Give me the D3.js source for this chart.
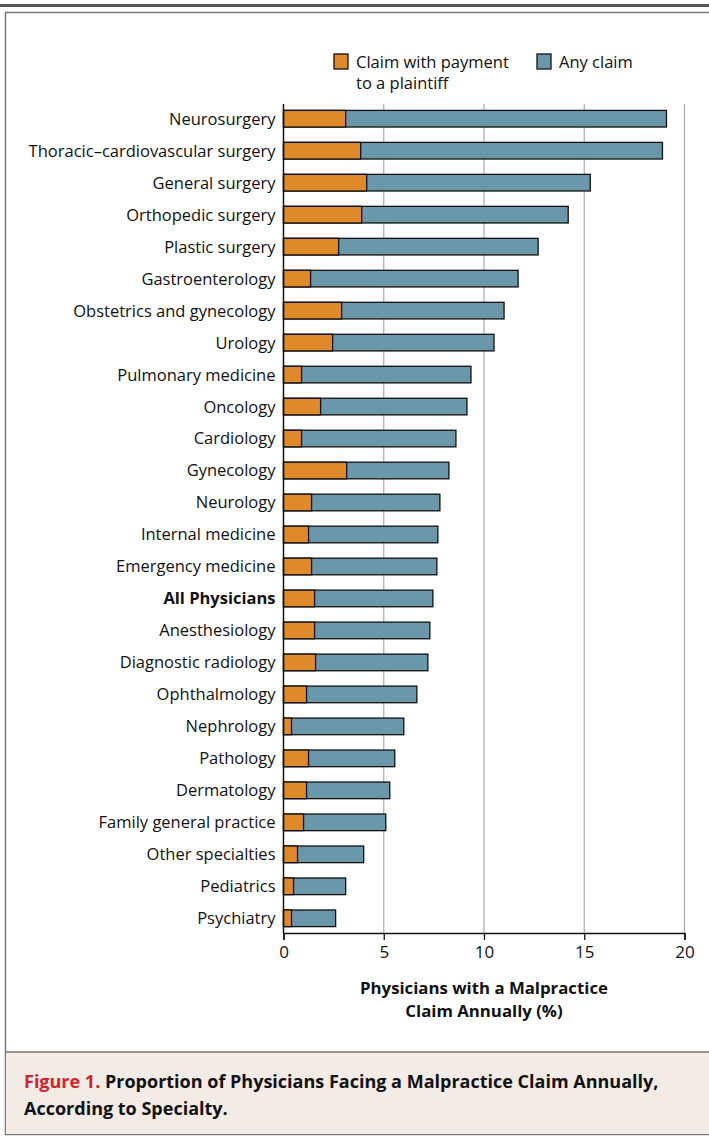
<!DOCTYPE html>
<html>
<head>
<meta charset="utf-8">
<script src="https://cdn.jsdelivr.net/npm/d3@7"></script>
<style>
  body { margin: 0; background: #fff; }
  svg text { font-family: "Open Sans", "Noto Sans", sans-serif; fill: #111; }
</style>
</head>
<body>
<div id="chart"></div>
<script>
/**
 * DATA
 * */
const specialties = [
  "Neurosurgery", "Thoracic\u2013cardiovascular surgery", "General surgery", "Orthopedic surgery",
  "Plastic surgery", "Gastroenterology", "Obstetrics and gynecology", "Urology",
  "Pulmonary medicine", "Oncology", "Cardiology", "Gynecology", "Neurology",
  "Internal medicine", "Emergency medicine", "All Physicians", "Anesthesiology",
  "Diagnostic radiology", "Ophthalmology", "Nephrology", "Pathology", "Dermatology",
  "Family general practice", "Other specialties", "Pediatrics", "Psychiatry"
];
const anyClaim = [19.1, 18.9, 15.3, 14.2, 12.7, 11.7, 11.0, 10.5, 9.35, 9.15, 8.6, 8.25, 7.8,
  7.7, 7.65, 7.45, 7.3, 7.2, 6.65, 6.0, 5.55, 5.3, 5.1, 4.0, 3.1, 2.6];
const paidClaim = [3.1, 3.85, 4.15, 3.9, 2.75, 1.35, 2.9, 2.45, 0.9, 1.85, 0.9, 3.15, 1.4,
  1.25, 1.4, 1.55, 1.55, 1.6, 1.15, 0.4, 1.25, 1.15, 1.0, 0.7, 0.5, 0.4];
const xTicks = [0, 5, 10, 15, 20];
const legendLabels = [["Claim with payment", "to a plaintiff"], ["Any claim"]];

/**
 * CONSTANTS
 * */
const width = 709, height = 1137;
const margin = { top: 104, left: 283.5, right: 24.5, bottom: 204 };
const orange = "#e0892b", blue = "#6a98aa";

const svg = d3.select("#chart").append("svg")
  .attr("width", width).attr("height", height);

// frame
svg.append("rect").attr("x", 0).attr("y", 4).attr("width", width).attr("height", 3).attr("fill", "#555");
svg.append("rect").attr("x", 5.5).attr("y", 12.5).attr("width", width).attr("height", 1122)
  .attr("fill", "none").attr("stroke", "#777").attr("stroke-width", 1.5);
svg.append("rect").attr("x", 6).attr("y", 1052).attr("width", width).attr("height", 82)
  .attr("fill", "#f2ebe6");
svg.append("line").attr("x1", 5).attr("x2", width).attr("y1", 1052).attr("y2", 1052)
  .attr("stroke", "#777").attr("stroke-width", 1.5);

const x = d3.scaleLinear().domain([0, 20]).range([margin.left, width - margin.right]);
const y = d3.scaleBand().domain(specialties)
  .range([margin.top, height - margin.bottom]).paddingInner(0.48).paddingOuter(0.2);

// gridlines
svg.selectAll(".grid").data(xTicks.slice(1)).join("line")
  .attr("x1", d => x(d)).attr("x2", d => x(d))
  .attr("y1", margin.top).attr("y2", height - margin.bottom)
  .attr("stroke", "#b0b0b0").attr("stroke-width", 1.3);

// bars
const row = svg.selectAll(".row").data(specialties).join("g")
  .attr("transform", d => `translate(0,${y(d)})`);
row.append("rect")
  .attr("x", x(0)).attr("width", (d, i) => x(anyClaim[i]) - x(0))
  .attr("height", y.bandwidth()).attr("fill", blue)
  .attr("stroke", "#111").attr("stroke-width", 1.3);
row.append("rect")
  .attr("x", x(0)).attr("width", (d, i) => x(paidClaim[i]) - x(0))
  .attr("height", y.bandwidth()).attr("fill", orange)
  .attr("stroke", "#111").attr("stroke-width", 1.3);
row.append("text")
  .attr("x", margin.left - 8).attr("y", y.bandwidth() / 2).attr("dy", "0.36em")
  .attr("text-anchor", "end").attr("font-size", 16.5)
  .attr("font-weight", d => d === "All Physicians" ? 700 : 400)
  .text(d => d);

// axes
const xAxis = svg.append("g")
  .attr("transform", `translate(0,${height - margin.bottom})`)
  .call(d3.axisBottom(x).tickValues(xTicks).tickSize(7).tickPadding(6));
xAxis.select(".domain").attr("stroke", "#111").attr("stroke-width", 1.5);
xAxis.selectAll(".tick line").attr("stroke", "#111").attr("stroke-width", 1.3);
xAxis.selectAll(".tick text").attr("font-size", 17).attr("font-family", "Open Sans").attr("fill", "#111");
svg.append("line").attr("x1", x(0)).attr("x2", x(0))
  .attr("y1", margin.top).attr("y2", height - margin.bottom)
  .attr("stroke", "#111").attr("stroke-width", 1.5);

const title = svg.append("text").attr("x", x(10)).attr("y", 994)
  .attr("text-anchor", "middle").attr("font-size", 16.8).attr("font-weight", 700);
title.append("tspan").attr("x", x(10)).text("Physicians with a Malpractice");
title.append("tspan").attr("x", x(10)).attr("dy", 23).text("Claim Annually (%)");

// legend
const legend = svg.selectAll(".legend").data(legendLabels).join("g")
  .attr("transform", (d, i) => `translate(${i ? 537 : 334},54)`);
legend.append("rect").attr("width", 14).attr("height", 15)
  .attr("fill", (d, i) => i ? blue : orange).attr("stroke", "#111").attr("stroke-width", 1.3);
legend.append("text").attr("x", 22).attr("y", 14).attr("font-size", 16.5)
  .selectAll("tspan").data(d => d).join("tspan")
  .attr("x", 22).attr("dy", (d, i) => i ? 21 : 0).text(d => d);

// caption
const cap = svg.append("text").attr("x", 24).attr("y", 1088)
  .attr("font-size", 18).attr("font-weight", 700);
cap.append("tspan").attr("fill", "#d2232e").text("Figure 1. ");
cap.append("tspan").attr("fill", "#111").text("Proportion of Physicians Facing a Malpractice Claim Annually,");
cap.append("tspan").attr("x", 24).attr("dy", 27).attr("fill", "#111").text("According to Specialty.");
</script>
</body>
</html>
